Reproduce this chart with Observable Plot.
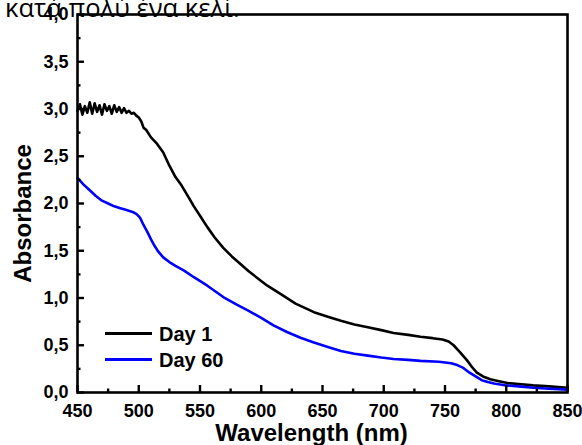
<!DOCTYPE html>
<html>
<head>
<meta charset="utf-8">
<script src="https://cdn.jsdelivr.net/npm/d3@7"></script>
<script src="https://cdn.jsdelivr.net/npm/@observablehq/plot@0.6"></script>
<style>
  html, body { margin: 0; padding: 0; background: #fff; }
  #wrap { position: relative; width: 582px; height: 445px; overflow: hidden; }
  #greek { position: absolute; left: 5px; top: -4px; font: 25.6px "Open Sans", sans-serif; line-height: 24px; white-space: nowrap; color: #000; }
  .leg { position: absolute; font: bold 20px "Liberation Sans", Arial, sans-serif; line-height: 20px; white-space: nowrap; }
  .legline { position: absolute; height: 3px; }
</style>
</head>
<body>
<div id="wrap">
  <div id="chart"></div>
  <div id="greek">κατά πολύ ένα κελί.</div>
  <div class="legline" style="left:105px; top:332px; width:47px; background:#000;"></div>
  <div class="leg" style="left:159px; top:324px;">Day 1</div>
  <div class="legline" style="left:105px; top:358px; width:47px; background:#0000ff;"></div>
  <div class="leg" style="left:159px; top:350px;">Day 60</div>
</div>
<script>
// ---- data ----
const wl1 = [450,452,454,456,458,460,462,464,466,468,470,472,474,476,478,480,482,484,486,488,490,492,494,496,498,500,502,504,506,510,515,520,525,530,535,540,545,550,556,562,569,576,583,590,597,605,616,628,643,655,665,676,687,698,708,720,730,740,748,753,757,762,768,772,776,781,787,794,801,810,822,835,850];
const day1 = [2.98,3.05,2.94,3.03,2.96,3.07,2.95,3.06,2.97,3.04,2.94,3.05,2.98,3.03,2.95,3.04,2.97,3.02,2.96,3.01,2.96,2.98,2.95,2.96,2.93,2.91,2.87,2.80,2.78,2.70,2.63,2.54,2.40,2.28,2.19,2.08,1.97,1.87,1.75,1.64,1.53,1.44,1.36,1.28,1.21,1.13,1.04,0.94,0.85,0.80,0.76,0.72,0.69,0.66,0.63,0.61,0.59,0.575,0.56,0.54,0.50,0.43,0.34,0.27,0.21,0.17,0.14,0.12,0.10,0.09,0.075,0.065,0.05];
const wl60 = [450,455,460,465,470,475,480,485,490,495,498,501,504,507,510,513,516,520,525,530,537,545,556,569,580,589,600,610,621,632,643,655,665,676,687,698,708,720,730,745,755,760,765,770,775,780,785,790,800,810,822,835,850];
const day60 = [2.27,2.20,2.14,2.08,2.03,2.00,1.97,1.95,1.93,1.91,1.89,1.85,1.77,1.70,1.62,1.55,1.49,1.43,1.38,1.34,1.29,1.22,1.13,1.01,0.93,0.87,0.79,0.71,0.64,0.58,0.53,0.48,0.44,0.41,0.39,0.37,0.355,0.345,0.335,0.325,0.31,0.29,0.26,0.21,0.17,0.13,0.11,0.095,0.075,0.065,0.05,0.04,0.03];
const xMajor = [450,500,550,600,650,700,750,800,850];
const xMinor = [475,525,575,625,675,725,775,825];
const yMajor = [0,0.5,1,1.5,2,2.5,3,3.5,4];
const yMinor = [0.25,0.75,1.25,1.75,2.25,2.75,3.25,3.75];
const series = [
  {name: "Day 1", wl: wl1, val: day1, color: "#000000"},
  {name: "Day 60", wl: wl60, val: day60, color: "#0000ff"}
];

// ---- layout ----
const W = 582, H = 445, mL = 77, mR = 15, mT = 14, mB = 53;
const fw = W - mL - mR, fh = H - mT - mB;
const fmt = d => d.toFixed(1).replace(".", ",");
const lineData = s => s.wl.map((w, i) => ({w, a: s.val[i]}));
const tk = {stroke: "black", strokeWidth: 2.4};

const chart = Plot.plot({
  width: W, height: H,
  marginLeft: mL, marginRight: mR, marginTop: mT, marginBottom: mB,
  style: {fontFamily: '"Liberation Sans", Arial, sans-serif', background: "white", color: "black"},
  x: {domain: [450, 850]},
  y: {domain: [0, 4]},
  marks: [
    ...series.map(s => Plot.line(lineData(s), {x: "w", y: "a", stroke: s.color, strokeWidth: 2.6})),
    // inward ticks
    Plot.ruleX(xMajor, {x: d => d, insetTop: fh - 7, ...tk}),
    Plot.ruleX(xMinor, {x: d => d, insetTop: fh - 3.5, ...tk}),
    Plot.ruleY(yMajor, {y: d => d, insetRight: fw - 7, ...tk}),
    Plot.ruleY(yMinor, {y: d => d, insetRight: fw - 3.5, ...tk}),
    Plot.frame({stroke: "black", strokeWidth: 2.6}),
    Plot.axisX({ticks: xMajor, tickSize: 0, tickPadding: 12, tickFormat: d => String(d), fontSize: 18, fontWeight: "bold", label: null}),
    Plot.axisY({ticks: yMajor, tickSize: 0, tickPadding: 9, tickFormat: fmt, fontSize: 18, fontWeight: "bold", label: null}),
    Plot.text(["Wavelength (nm)"], {text: d => d, frameAnchor: "bottom", textAnchor: "middle", lineAnchor: "middle", dx: -11, dy: 40.5, fontSize: 24, fontWeight: "bold"}),
    Plot.text(["Absorbance"], {text: d => d, frameAnchor: "left", textAnchor: "middle", lineAnchor: "middle", rotate: -90, dx: -54, dy: 10, fontSize: 24, fontWeight: "bold"})
  ]
});
document.getElementById("chart").appendChild(chart);
</script>
</body>
</html>
